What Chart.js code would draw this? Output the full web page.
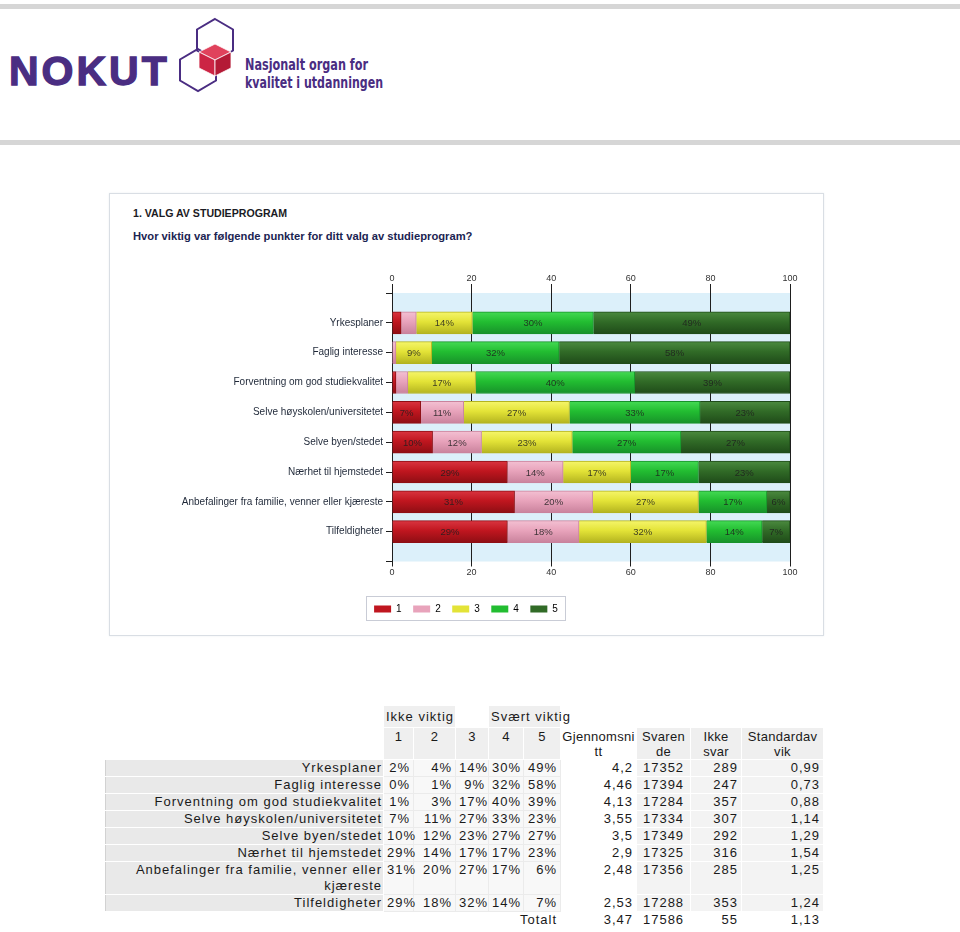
<!DOCTYPE html>
<html lang="no">
<head>
<meta charset="UTF-8">
<title>Valg av studieprogram</title>
<script src="https://cdn.jsdelivr.net/npm/chart.js@4.4.1/dist/chart.umd.min.js"></script>
<style>
  body {
    margin: 0;
    width: 960px;
    height: 932px;
    position: relative;
    overflow: hidden;
    background: #fff;
    font-family: "Liberation Sans", Arial, sans-serif;
  }
  .rule { position: absolute; left: 0; width: 960px; height: 5px; background: #d6d6d6; }
  .nokut {
    position: absolute; left: 9px; top: 48px;
    font: bold 41px "Liberation Sans", Arial, sans-serif;
    letter-spacing: 3px; color: #4a2d82;
    -webkit-text-stroke: 1.3px #4a2d82;
  }
  .tag {
    position: absolute; left: 245px; white-space: nowrap;
    font: bold 16px "Liberation Sans Narrow", "DejaVu Sans Condensed", sans-serif;
    color: #4a2d82; transform-origin: 0 0;
  }
  .box {
    position: absolute; left: 109px; top: 193px; width: 713px; height: 441px;
    border: 1px solid #d9dee4; box-shadow: 0 0 2px #eceff2;
  }
  .title1 { position: absolute; left: 133px; top: 207px; font: bold 10.6px "Liberation Sans", Arial, sans-serif; color: #1b1b24; }
  .title2 { position: absolute; left: 133px; top: 230px; font: bold 11.2px "Liberation Sans", Arial, sans-serif; color: #1b2452; }
  #chart { position: absolute; left: 132px; top: 268px; }

  #tbl {
    position: absolute; left: 105px; top: 705px; width: 718px;
    border-collapse: collapse; table-layout: fixed;
    font-size: 13px; letter-spacing: 1px; color: #1a1a1a;
  }
  #tbl td { padding: 0 3px; height: 16px; line-height: 16px; border: 1px solid #fff; white-space: nowrap; overflow: visible; vertical-align: top; }
  #tbl td.lab { background: #e9e9e9; text-align: right; white-space: normal; border-left: 1px solid #d2d2d2; padding-right: 1px; }
  #tbl td.pc { background: #f8f8f8; text-align: right; border-color: #ebebeb; }
  #tbl td.mean { text-align: right; }
  #tbl td.gr { background: #f3f3f3; text-align: right; }
  #tbl td.ctr { text-align: center; }
  #tbl tr.h1 td { height: 21px; line-height: 16px; vertical-align: middle; }
  #tbl tr.h1 td.g { background: #efefef; text-align: left; padding-left: 2px; }
  #tbl tr.h2 td { height: 30px; line-height: 15px; text-align: center; padding: 1px 0 0 0; letter-spacing: 0.3px; }
  #tbl tr.h2 td.g { background: #efefef; }
</style>
</head>
<body>
<div class="rule" style="top:4px"></div>
<div class="nokut">NOKUT</div>
<svg style="position:absolute;left:0;top:0" width="260" height="110">
  <g fill="none" stroke="#4a2d82" stroke-width="2">
    <polygon points="215,19 233,29.5 233,50.5 215,61 197,50.5 197,29.5"/>
    <polygon points="198,49 216,59.5 216,80.5 198,91 180,80.5 180,59.5"/>
  </g>
  <g stroke="#fff" stroke-width="0.8">
    <polygon points="215,44 231,52 215,60 199,52" fill="#e0425c"/>
    <polygon points="199,52 215,60 215,76 199,68" fill="#cc2444"/>
    <polygon points="215,60 231,52 231,68 215,76" fill="#b41a36"/>
  </g>
</svg>
<div class="tag" id="tag1" style="top:55px">Nasjonalt organ for</div>
<div class="tag" id="tag2" style="top:73px">kvalitet i utdanningen</div>
<div class="rule" style="top:140px"></div>

<div class="box"></div>
<div class="title1">1. VALG AV STUDIEPROGRAM</div>
<div class="title2">Hvor viktig var følgende punkter for ditt valg av studieprogram?</div>
<canvas id="chart" width="688" height="362"></canvas>

<table id="tbl">
  <colgroup>
    <col style="width:278px"><col style="width:30px"><col style="width:42px"><col style="width:33px">
    <col style="width:35px"><col style="width:37px"><col style="width:76px"><col style="width:54px">
    <col style="width:51px"><col style="width:82px">
  </colgroup>
  <tbody id="tbody"></tbody>
</table>

<script>
// categories (same order in chart and table)
const categories = [
  'Yrkesplaner',
  'Faglig interesse',
  'Forventning om god studiekvalitet',
  'Selve høyskolen/universitetet',
  'Selve byen/stedet',
  'Nærhet til hjemstedet',
  'Anbefalinger fra familie, venner eller kjæreste',
  'Tilfeldigheter'
];

// percent per answer (1 = ikke viktig ... 5 = svært viktig)
const score1 = [2.3, 0, 1, 7.2, 10.2, 29, 30.8, 29];
const score2 = [3.8, 1, 3, 10.8, 12.3, 14, 19.6, 18];
const score3 = [14.1, 9, 17, 26.6, 22.8, 17, 26.6, 32];
const score4 = [30.4, 32, 40, 32.8, 27.3, 17, 17.2, 14];
const score5 = [49.4, 58, 39, 22.6, 27.4, 23, 5.8, 7];
const scoreLabels = ['1', '2', '3', '4', '5'];

// table columns
const means = ['4,2', '4,46', '4,13', '3,55', '3,5', '2,9', '2,48', '2,53'];
const answered = [17352, 17394, 17284, 17334, 17349, 17325, 17356, 17288];
const noAnswer = [289, 247, 357, 307, 292, 316, 285, 353];
const stdDev = ['0,99', '0,73', '0,88', '1,14', '1,29', '1,54', '1,25', '1,24'];
const totalMean = '3,47';
const totalAnswered = 17586;
const totalNoAnswer = 55;
const totalStdDev = '1,13';

const series = [score1, score2, score3, score4, score5];

// bar colours: light top, main, dark bottom
const colLight = ['#d93540', '#f3c0d2', '#f5f56a', '#44da54', '#4b8a3f'];
const colMid   = ['#c0161f', '#e8a3bb', '#e3e337', '#22bd31', '#316b27'];
const colDark  = ['#8e0e14', '#c9829c', '#b3b31f', '#17922a', '#1f4b19'];

function barFill(s) {
  return function(ctx) {
    const chart = ctx.chart;
    const yScale = chart.scales.y;
    if (!chart.chartArea || !yScale || ctx.type !== 'data') return colMid[s];
    const yc = yScale.getPixelForValue(ctx.dataIndex);
    const g = chart.ctx.createLinearGradient(0, yc - 11, 0, yc + 11);
    g.addColorStop(0, colLight[s]);
    g.addColorStop(0.45, colMid[s]);
    g.addColorStop(1, colDark[s]);
    return g;
  };
}

// light blue plot background
const plotBackground = {
  id: 'plotBackground',
  beforeDraw(chart) {
    const {ctx, chartArea: a} = chart;
    ctx.save();
    ctx.fillStyle = '#dcf0fa';
    ctx.fillRect(a.left, a.top, a.right - a.left, a.bottom - a.top);
    ctx.restore();
  }
};

// percent text inside the bars
const barLabels = {
  id: 'barLabels',
  afterDatasetsDraw(chart) {
    const c = chart.ctx;
    c.save();
    c.font = '9.5px "Liberation Sans", Arial, sans-serif';
    c.fillStyle = 'rgba(30,30,30,0.85)';
    c.textAlign = 'center';
    c.textBaseline = 'middle';
    chart.data.datasets.forEach((ds, s) => {
      chart.getDatasetMeta(s).data.forEach((bar, i) => {
        const v = Math.round(ds.data[i].x);
        if (v < 5) return;
        const p = bar.getProps(['x', 'base', 'y'], true);
        c.fillText(v + '%', (p.x + p.base) / 2, p.y + 1);
      });
    });
    c.restore();
  }
};

// frame round the legend
const legendFrame = {
  id: 'legendFrame',
  afterDraw(chart) {
    const hb = chart.legend.legendHitBoxes;
    if (!hb || !hb.length) return;
    const first = hb[0], last = hb[hb.length - 1];
    const c = chart.ctx;
    c.save();
    c.strokeStyle = '#c9ccd6';
    c.lineWidth = 1;
    c.strokeRect(Math.round(first.left - 8) + 0.5, Math.round(first.top - 8) + 0.5,
                 Math.round(last.left + last.width - first.left + 15), 24);
    c.restore();
  }
};

const tickFont = {family: '"Liberation Sans", Arial, sans-serif', size: 9};
const catFont = {family: '"Liberation Sans", Arial, sans-serif', size: 10};

new Chart(document.getElementById('chart'), {
  type: 'bar',
  data: {
    datasets: series.map((vals, s) => ({
      label: scoreLabels[s],
      data: vals.map((v, i) => ({x: v, y: i})),
      backgroundColor: barFill(s),
      borderColor: colDark[s],
      borderWidth: 1,
      barThickness: 22
    }))
  },
  options: {
    indexAxis: 'y',
    responsive: false,
    animation: false,
    layout: {padding: {left: 10, right: 30, top: 0, bottom: 6}},
    scales: {
      x: {
        type: 'linear', position: 'bottom', min: 0, max: 100, stacked: true,
        ticks: {stepSize: 20, font: tickFont, color: '#333', padding: 1},
        grid: {color: '#1e1e1e', tickLength: 5},
        border: {display: false},
        afterFit: s => { s.height = 31; }
      },
      x2: {
        type: 'linear', position: 'top', min: 0, max: 100,
        ticks: {stepSize: 20, font: tickFont, color: '#333', padding: 0},
        grid: {color: '#1e1e1e', tickLength: 9, drawOnChartArea: false},
        border: {display: false},
        afterFit: s => { s.height = 25; }
      },
      y: {
        type: 'linear', min: -1, max: 8, reverse: true, stacked: true, offset: false,
        ticks: {
          stepSize: 1, autoSkip: false, font: catFont, color: '#1f2838', padding: 3,
          callback: v => categories[v] || ''
        },
        grid: {drawOnChartArea: false, offset: false, color: '#1e1e1e', tickLength: 6},
        border: {display: true, color: '#1e1e1e'},
        afterFit: s => { s.width = 250; }
      }
    },
    plugins: {
      legend: {
        position: 'bottom',
        labels: {
          boxWidth: 17, boxHeight: 7, padding: 11.5, font: catFont, color: '#333',
          generateLabels: () => scoreLabels.map((t, i) => ({
            text: t, fillStyle: colMid[i], strokeStyle: colMid[i], lineWidth: 0, datasetIndex: i
          }))
        }
      },
      tooltip: {enabled: false}
    }
  },
  plugins: [plotBackground, barLabels, legendFrame]
});

// squeeze the logo tagline lines to the width they have in the logo
[['tag1', 123], ['tag2', 138]].forEach(([id, w]) => {
  const el = document.getElementById(id);
  el.style.transform = 'scaleX(' + (w / el.getBoundingClientRect().width) + ')';
});

// table below the chart
const tbody = document.getElementById('tbody');
let html = '<tr class="h1"><td></td><td colspan="2" class="g">Ikke viktig</td><td></td>' +
           '<td colspan="2" class="g">Svært viktig</td><td></td><td></td><td></td><td></td></tr>';
html += '<tr class="h2"><td></td>' + scoreLabels.map(t => '<td class="g">' + t + '</td>').join('') +
        '<td>Gjennomsni<br>tt</td><td class="g">Svaren<br>de</td><td class="g">Ikke<br>svar</td>' +
        '<td class="g">Standardav<br>vik</td></tr>';
categories.forEach((cat, i) => {
  html += '<tr><td class="lab">' + cat + '</td>' +
    series.map(vals => '<td class="pc">' + Math.round(vals[i]) + '%</td>').join('') +
    '<td class="mean">' + means[i] + '</td>' +
    '<td class="gr ctr">' + answered[i] + '</td>' +
    '<td class="gr">' + noAnswer[i] + '</td>' +
    '<td class="gr">' + stdDev[i] + '</td></tr>';
});
html += '<tr><td></td><td colspan="5" style="text-align:right">Totalt</td>' +
  '<td class="mean">' + totalMean + '</td><td class="ctr">' + totalAnswered + '</td>' +
  '<td style="text-align:right">' + totalNoAnswer + '</td><td style="text-align:right">' + totalStdDev + '</td></tr>';
tbody.innerHTML = html;
</script>
</body>
</html>
